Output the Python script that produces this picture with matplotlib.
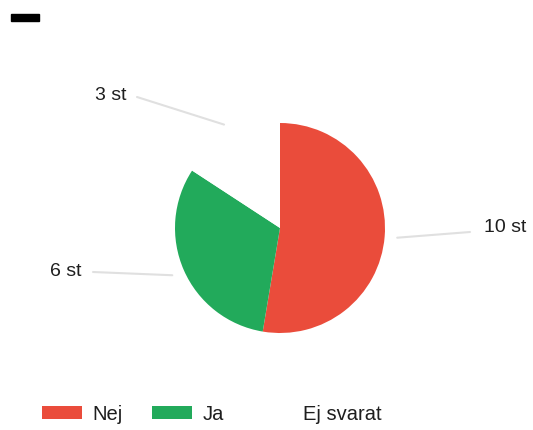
import matplotlib.pyplot as plt
import numpy as np
from matplotlib.patches import Rectangle

labels = ["Nej", "Ja", "Ej svarat"]
counts = [10, 6, 3]
colors = ["#EA4C3B", "#22AA5B", "#FFFFFF"]

W, H = 533, 430
fig = plt.figure(figsize=(W / 100, H / 100), dpi=100)
ax = fig.add_axes([0, 0, 1, 1])

cx, cy, r = 280, H - 228, 105
wedges, _ = ax.pie(counts, colors=colors, startangle=90, counterclock=False,
                   center=(cx, cy), radius=r, frame=True,
                   wedgeprops=dict(linewidth=0))
ax.set_xlim(0, W)
ax.set_ylim(0, H)
ax.set_aspect("equal")
ax.axis("off")

# label text positions (pixel coords, image y-down)
label_pos = [(505, 228), (66, 272), (111, 96)]
line_end = [(470, 232), (93, 272), (137, 97)]
for w, n, (tx, ty), (ex, ey) in zip(wedges, counts, label_pos, line_end):
    mid = np.deg2rad((w.theta1 + w.theta2) / 2)
    sx = cx + 1.12 * r * np.cos(mid)
    sy = cy + 1.12 * r * np.sin(mid)
    ax.plot([sx, ex], [sy, H - ey], color="#e0e0e0", lw=1.5, solid_capstyle="round")
    ax.text(tx, H - ty, f"{n} st", ha="center", va="center", fontsize=14,
            color="#1e1e1e", family="Liberation Sans")

# small dark title mark
fig.patches.append(Rectangle((11 / W, 1 - 21 / H), 28 / W, 7 / H,
                             transform=fig.transFigure, color="black"))

leg = fig.legend(wedges, labels, loc="center left",
                 bbox_to_anchor=(28 / W, 1 - 414 / H),
                 ncol=3, frameon=False, handlelength=2.0, handleheight=0.65,
                 handletextpad=0.5, columnspacing=1.45, borderpad=0.2,
                 prop=dict(family="Liberation Sans", size=14.5))
for t in leg.get_texts():
    t.set_color("#1e1e1e")

fig.savefig("out.png", dpi=100)
